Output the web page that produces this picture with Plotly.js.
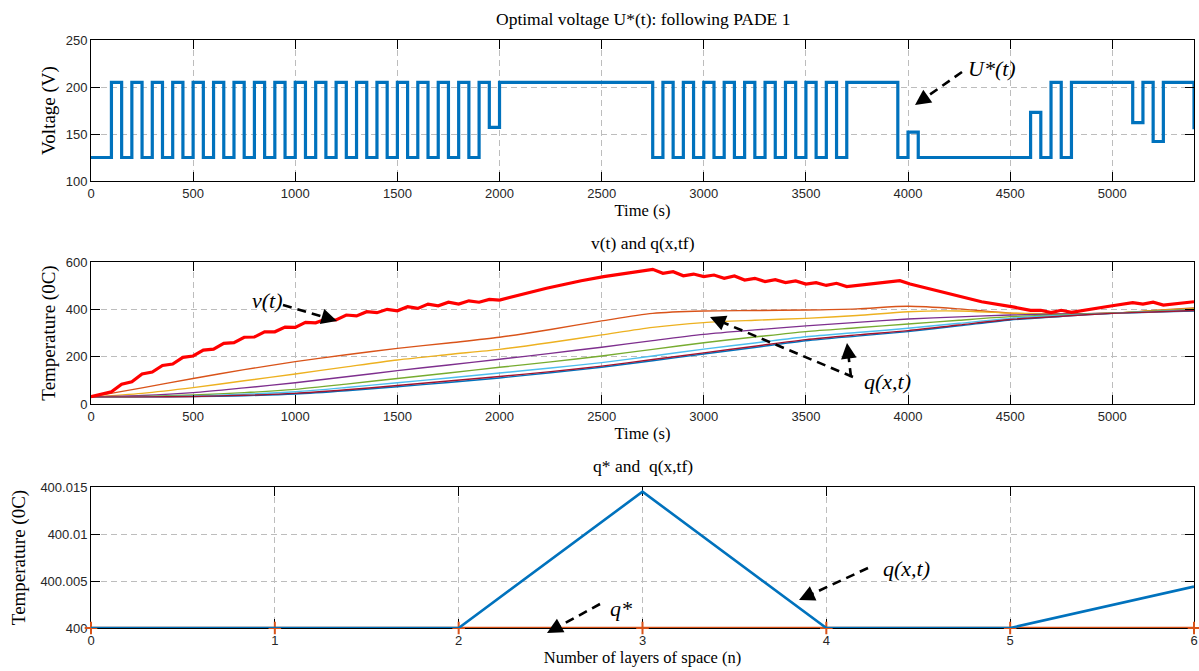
<!DOCTYPE html>
<html>
<head>
<meta charset="utf-8">
<script src="https://cdn.plot.ly/plotly-3.0.1.min.js"></script>
<style>
html,body{margin:0;padding:0;background:#fff;}
#chart{width:1199px;height:671px;}
</style>
</head>
<body>
<div id="chart"></div>
<script>
// ---------- DATA ----------
// Optimal voltage U*(t) (step changes: time -> value held from that time)
var voltTime = [0,100,150,200,250,300,350,400,450,500,550,600,650,700,750,800,850,900,950,1000,
  1050,1100,1150,1200,1250,1300,1350,1400,1450,1500,1550,1600,1650,1700,1750,1800,1850,1900,1950,2000,
  2750,2800,2850,2900,2950,3000,3050,3100,3150,3200,3250,3300,3350,3400,3450,3500,3550,3600,3650,3700,
  3950,4000,4050,4600,4650,4700,4750,4800,5100,5150,5200,5250,5400];
var voltValue = [125,205,125,205,125,205,125,205,125,205,125,205,125,205,125,205,125,205,125,205,
  125,205,125,205,125,205,125,205,125,205,125,205,125,205,125,205,125,205,157,205,
  125,205,125,205,125,205,125,205,125,205,125,205,125,205,125,205,125,205,125,205,
  125,152,125,173,125,205,125,205,162,205,142,205,155];

// v(t)
var vTime = [0,100,150,200,250,300,350,400,450,500,550,600,650,700,750,800,850,900,950,1000,
  1050,1100,1150,1200,1250,1300,1350,1400,1450,1500,1550,1600,1650,1700,1750,1800,1850,1900,1950,2000,
  2230,2400,2510,2640,2750,2800,2850,2900,2950,3000,3050,3100,3150,3200,3250,3300,3350,3400,3450,3500,
  3550,3600,3650,3700,3960,4010,4190,4360,4520,4600,4650,4700,4750,4800,5000,5100,5150,5200,5250,5400];
var vValue = [31,52,84,94,127,135,163,169,197,203,228,232,256,259,282,283,305,305,325,324,
  345,343,359,355,376,372,390,386,400,394,411,404,422,415,430,422,436,430,442,439,
  489,521,538,555,569,552,559,542,549,538,545,531,541,524,531,517,525,513,520,507,
  513,501,510,496,521,507,468,432,409,396,396,386,396,387,415,428,422,430,418,432];

// q(x,t) for the spatial layers
var qTime = [0,250,500,750,1000,1250,1500,1750,2000,2250,2500,2750,3000,3250,3500,3750,4000,4250,4500,4750,5000,5200,5400];
var qLayer1 = [30,30,31,35,42,56,73,91,110,132,155,183,211,239,267,287,306,330,355,370,383,388,393];
var qLayer2 = [30,68,108,145,179,208,235,258,282,315,351,383,393,395,397,402,413,402,384,381,384,395,406];
var qLayer3 = [30,45,69,98,127,157,186,209,231,260,292,324,344,354,362,374,390,393,384,382,384,394,403];
var qLayer4 = [30,36,48,68,90,115,141,165,189,214,240,268,294,313,330,345,359,368,376,380,384,391,398];
var qLayer5 = [30,32,38,48,62,84,108,131,155,178,203,231,259,283,306,322,338,354,369,377,384,392,400];
var qLayer6 = [30,31,34,41,52,70,90,110,131,152,175,203,232,258,284,302,320,341,362,374,383,390,397];
var qLayer7 = [30,30,32,37,45,60,78,97,116,137,160,188,216,244,272,292,310,334,357,371,383,389,395];

// q* and q(x,tf) over layers
var layers = [0,1,2,3,4,5,6];
var qStar = [400,400,400,400,400,400,400];
var qFinal = [400,400,400,400.0145,400,400,400.0044];
var bottomTickVals = [400,400.005,400.01,400.015];
var bottomTickText = ['400','400.005','400.01','400.015'];

// ---------- STYLE ----------
var W = 1199, H = 671;
function px(x){return x / W;}
function py(y){return 1 - y / H;}
var serif = 'Liberation Serif, Times New Roman, serif';
var sans = 'Liberation Sans, Arial, sans-serif';
var qColors = ['#0072BD','#D95319','#EDB120','#7E2F8E','#77AC30','#4DBEEE','#A2142F'];

function axisBase(extra){
  var a = {
    showline:true, linecolor:'#000', linewidth:1, mirror:'ticks',
    ticks:'inside', ticklen:9, tickwidth:1, tickcolor:'#000',
    showgrid:true, gridcolor:'#bdbdbd', griddash:'6px,4px', gridwidth:1,
    zeroline:false, tickfont:{family:sans, size:13, color:'#262626'},
    automargin:false
  };
  for (var k in extra) a[k] = extra[k];
  return a;
}

var qLayers = [qLayer1,qLayer2,qLayer3,qLayer4,qLayer5,qLayer6,qLayer7];
var traces = [];
traces.push({x:voltTime, y:voltValue, xaxis:'x', yaxis:'y', mode:'lines',
  line:{color:'#0072BD', width:3.2, shape:'hv'}, hoverinfo:'skip'});
for (var i=0;i<qLayers.length;i++){
  traces.push({x:qTime, y:qLayers[i], xaxis:'x2', yaxis:'y2', mode:'lines',
    line:{color:qColors[i], width:1.4, shape:'spline', smoothing:0.8}, hoverinfo:'skip'});
}
traces.push({x:vTime, y:vValue, xaxis:'x2', yaxis:'y2', mode:'lines',
  line:{color:'#FF0000', width:3.2}, hoverinfo:'skip'});
traces.push({x:layers, y:qStar, xaxis:'x3', yaxis:'y3', mode:'lines+markers', cliponaxis:false,
  line:{color:'#D95319', width:2.6},
  marker:{symbol:'cross-thin', size:9, color:'#D95319', line:{color:'#D95319', width:2}}, hoverinfo:'skip'});
traces.push({x:layers, y:qFinal, xaxis:'x3', yaxis:'y3', mode:'lines', cliponaxis:false,
  line:{color:'#0072BD', width:2.6}, hoverinfo:'skip'});

var xTitleFont = {family:serif, size:16.5, color:'#000'};
var yTitleFont = {family:serif, size:19, color:'#000'};

var layout = {
  width:W, height:H, margin:{l:0,r:0,t:0,b:0}, showlegend:false,
  paper_bgcolor:'#fff', plot_bgcolor:'#fff',
  xaxis: axisBase({domain:[px(91),px(1194)], anchor:'y', range:[0,5400], tick0:0, dtick:500,
    title:{text:'Time (s)', font:xTitleFont, standoff:4}}),
  yaxis: axisBase({domain:[py(181),py(40)], anchor:'x', range:[100,250], tick0:100, dtick:50,
    title:{text:'Voltage (V)', font:yTitleFont, standoff:5}}),
  xaxis2: axisBase({domain:[px(91),px(1194)], anchor:'y2', range:[0,5400], tick0:0, dtick:500,
    title:{text:'Time (s)', font:xTitleFont, standoff:4}}),
  yaxis2: axisBase({domain:[py(404),py(262)], anchor:'x2', range:[0,600], tick0:0, dtick:200,
    title:{text:'Temperature (0C)', font:yTitleFont, standoff:5}}),
  xaxis3: axisBase({domain:[px(91),px(1194)], anchor:'y3', range:[0,6], tick0:0, dtick:1, layer:'below traces',
    title:{text:'Number of layers of space (n)', font:xTitleFont, standoff:4}}),
  yaxis3: axisBase({domain:[py(628),py(487)], anchor:'x3', range:[400,400.015], layer:'below traces',
    tickmode:'array', tickvals:bottomTickVals, ticktext:bottomTickText,
    title:{text:'Temperature (0C)', font:yTitleFont, standoff:9}}),
  shapes:[], annotations:[]
};

// subplot titles
function title(text, y){
  layout.annotations.push({xref:'paper', yref:'paper', x:px(642.5), y:py(y), text:text,
    showarrow:false, xanchor:'center', yanchor:'middle', font:{family:serif, size:17.5, color:'#000'}});
}
title('Optimal voltage U*(t): following PADE 1', 19);
title('v(t) and q(x,tf)', 243);
title('q* and  q(x,tf)', 466);

// italic labels
function label(text, x, y){
  layout.annotations.push({xref:'paper', yref:'paper', x:px(x), y:py(y), text:'<i>'+text+'</i>',
    showarrow:false, xanchor:'center', yanchor:'middle', font:{family:serif, size:22, color:'#000'}});
}
label('U*(t)', 992, 68);
label('v(t)', 267, 300);
label('q(x,t)', 888, 382);
label('q(x,t)', 906, 568);
label('q*', 621, 608);

// dashed arrows
function arrow(x0,y0,x1,y1){
  var dx = x1-x0, dy = y1-y0, L = Math.sqrt(dx*dx+dy*dy);
  var ux = dx/L, uy = dy/L;
  var hx = x1 - ux*11, hy = y1 - uy*11;
  layout.shapes.push({type:'line', xref:'paper', yref:'paper', x0:px(x0), y0:py(y0), x1:px(hx), y1:py(hy),
    line:{color:'#000', width:2.6, dash:'9px,6px'}});
  layout.annotations.push({xref:'paper', yref:'paper', x:px(x1), y:py(y1), text:'',
    showarrow:true, arrowhead:2, arrowsize:1.3, arrowwidth:2.4, arrowcolor:'#000',
    ax:-ux*14, ay:-uy*14, standoff:0});
}
arrow(962,72,915,105);
arrow(283,305,337,321);
arrow(853,377,710,317);
arrow(851,377,847,343);
arrow(868,568,799,600);
arrow(600,604,547,633);

Plotly.newPlot('chart', traces, layout, {displayModeBar:false, staticPlot:true});
</script>
</body>
</html>
